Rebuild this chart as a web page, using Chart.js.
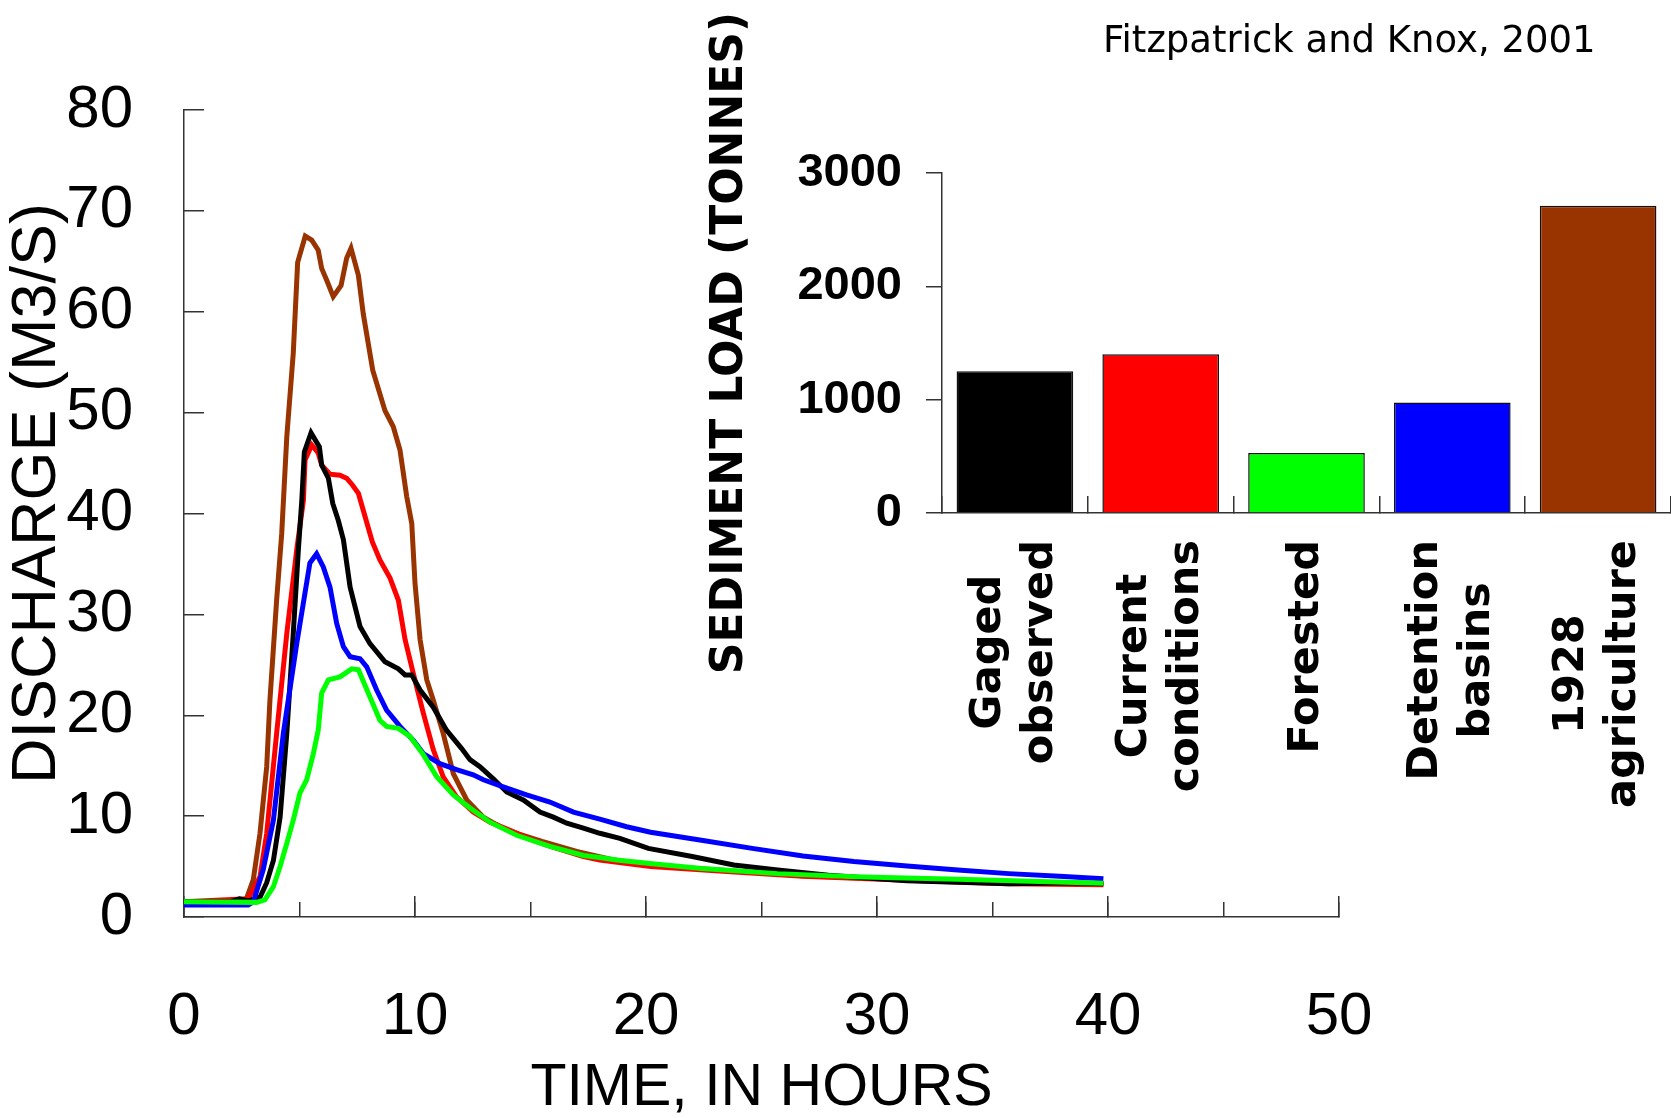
<!DOCTYPE html>
<html>
<head>
<meta charset="utf-8">
<title>Discharge and sediment load</title>
<script src="https://cdn.jsdelivr.net/npm/chart.js@4.4.1/dist/chart.umd.min.js"></script>
<style>
  html, body { margin: 0; padding: 0; background: #fff; overflow: hidden; }
  #wrap { position: relative; width: 1671px; height: 1118px; }
  #hydroChart { position: absolute; left: 0; top: 0; }
  #loadChart { position: absolute; left: 640px; top: 0; }
  #note { position: absolute; left: 1103px; top: 21px; font: 37px/1 "DejaVu Sans", sans-serif; color: #000; white-space: nowrap; }
</style>
</head>
<body>
<div id="wrap">
  <canvas id="hydroChart" width="1671" height="1118"></canvas>
  <canvas id="loadChart" width="1031" height="1118"></canvas>
  <div id="note">Fitzpatrick and Knox, 2001</div>
</div>
<script>
// hydrographs, hours vs m3/s
const gagedHours = [0, 2.0, 2.4, 2.8, 3.3, 3.58, 3.87, 4.16, 4.45, 4.73, 4.95, 5.1, 5.21, 5.5, 5.86, 5.96, 6.25, 6.44, 6.68, 6.9, 7.19, 7.62, 8.05, 8.7, 9.28, 9.57, 9.86, 10.22, 10.79, 11.37, 12.02, 12.38, 12.81, 13.39, 13.97, 14.69, 15.41, 15.99, 16.57, 17.29, 18.0, 18.87, 20.1, 22.0, 23.8, 25.7, 27.9, 31.3, 35.7, 38.3, 39.8];
const gagedQ = [1.5, 1.5, 1.8, 1.6, 2.0, 3.4, 5.6, 9.9, 18.2, 28.1, 36.4, 41.3, 46.1, 48.0, 46.6, 44.8, 43.5, 41.0, 39.3, 37.4, 32.7, 28.8, 27.1, 25.3, 24.6, 24.0, 24.0, 22.5, 20.8, 18.5, 16.7, 15.6, 14.9, 13.7, 12.4, 11.6, 10.4, 9.9, 9.3, 8.8, 8.3, 7.8, 6.8, 6.0, 5.15, 4.65, 4.15, 3.6, 3.3, 3.4, 3.3];

const currentHours = [0, 2.78, 3.29, 3.58, 4.01, 4.45, 4.88, 5.17, 5.24, 5.53, 5.81, 5.96, 6.32, 6.75, 7.04, 7.3, 7.55, 7.8, 8.15, 8.48, 8.92, 9.28, 9.57, 9.93, 10.36, 10.79, 11.22, 11.8, 12.52, 13.25, 14.11, 15.0, 16.0, 17.29, 18.0, 20.2, 23.5, 26.8, 31.3, 35.7, 39.8];
const currentQ = [1.5, 1.8, 4.0, 8.3, 18.2, 28.1, 36.4, 41.3, 45.3, 46.8, 46.0, 44.8, 43.9, 43.8, 43.5, 42.8, 42.0, 40.0, 37.2, 35.4, 33.6, 31.4, 27.5, 24.1, 20.2, 16.6, 13.9, 11.9, 10.4, 9.4, 8.6, 7.7, 6.9, 6.0, 5.65, 5.0, 4.5, 4.05, 3.65, 3.3, 3.2];

const forestHours = [0, 3.14, 3.5, 3.87, 4.16, 4.45, 4.73, 5.02, 5.31, 5.6, 5.81, 5.96, 6.25, 6.75, 7.26, 7.55, 8.05, 8.48, 8.77, 9.28, 9.78, 10.36, 10.94, 11.66, 12.38, 13.25, 14.4, 15.84, 17.29, 18.0, 18.73, 20.17, 22.4, 25.7, 29.0, 33.5, 39.8];
const forestQ = [1.5, 1.45, 1.7, 3.0, 5.0, 7.3, 9.6, 12.3, 13.6, 16.2, 18.5, 22.2, 23.5, 23.8, 24.6, 24.5, 21.8, 19.5, 18.9, 18.7, 17.9, 16.1, 13.9, 12.1, 10.8, 9.4, 8.1, 7.0, 6.1, 5.9, 5.65, 5.3, 4.8, 4.3, 4.0, 3.75, 3.35];

const basinHours = [0, 2.78, 3.0, 3.43, 3.87, 4.3, 4.88, 5.45, 5.74, 6.03, 6.32, 6.61, 6.9, 7.19, 7.62, 7.91, 8.34, 8.77, 9.35, 9.93, 10.36, 11.08, 11.8, 12.52, 12.96, 13.82, 14.83, 15.84, 16.86, 18.0, 19.16, 20.2, 22.4, 24.6, 26.8, 29.0, 31.3, 33.5, 35.7, 37.9, 39.8];
const basinQ = [1.2, 1.2, 1.5, 4.7, 9.6, 18.2, 27.1, 35.1, 36.0, 34.7, 32.7, 29.1, 26.8, 25.8, 25.6, 24.8, 22.5, 20.5, 18.9, 17.5, 16.2, 15.2, 14.6, 14.1, 13.6, 12.9, 12.1, 11.4, 10.4, 9.7, 8.95, 8.4, 7.6, 6.8, 6.05, 5.5, 5.05, 4.65, 4.3, 4.05, 3.8];

const agriHours = [0, 2.5, 2.71, 3.0, 3.29, 3.58, 3.72, 4.01, 4.23, 4.45, 4.73, 4.92, 5.25, 5.53, 5.81, 5.96, 6.2, 6.46, 6.8, 7.04, 7.23, 7.55, 7.76, 8.17, 8.7, 9.06, 9.35, 9.64, 9.86, 10.0, 10.22, 10.51, 10.79, 11.22, 11.66, 12.24, 12.96, 13.68, 14.4, 15.5, 17.0, 18.5, 20.2, 23.5, 26.8, 31.3, 35.7, 39.8];
const agriQ = [1.5, 1.5, 1.85, 3.7, 8.3, 14.9, 21.5, 31.4, 38.0, 47.6, 55.9, 64.9, 67.5, 67.1, 66.1, 64.3, 63.0, 61.5, 62.6, 65.3, 66.3, 63.6, 59.8, 54.2, 50.2, 48.6, 46.3, 41.7, 39.0, 33.1, 27.5, 23.5, 21.5, 18.2, 14.2, 11.6, 9.9, 8.95, 8.3, 7.5, 6.5, 5.7, 5.1, 4.6, 4.1, 3.7, 3.4, 3.3];

// sediment load bars
const scenarioLabels = [['Gaged', 'observed'], ['Current', 'conditions'], ['Forested'], ['Detention', 'basins'], ['1928', 'agriculture']];
const sedimentTonnes = [1250, 1400, 530, 975, 2710];
const scenarioColors = ['#000000', '#ff0000', '#00ff00', '#0000ff', '#993300'];

const yTitle = 'DISCHARGE (M3/S)';
const xTitle = 'TIME, IN HOURS';
const loadTitle = 'SEDIMENT LOAD (TONNES)';

const axisColor = '#333333';

function pts(hours, q) {
  return hours.map((h, i) => ({ x: h, y: q[i] }));
}

function series(label, hours, q, color, order) {
  return {
    label: label,
    data: pts(hours, q),
    borderColor: color,
    borderWidth: 5,
    pointRadius: 0,
    tension: 0,
    fill: false,
    order: order
  };
}

// y title overlaps the tick labels in the original, so draw it by hand
const dischargeTitle = {
  id: 'dischargeTitle',
  afterDraw(chart) {
    const ctx = chart.ctx;
    const area = chart.chartArea;
    ctx.save();
    ctx.font = '63px "Liberation Sans"';
    ctx.fillStyle = '#000';
    ctx.textAlign = 'center';
    ctx.textBaseline = 'middle';
    ctx.translate(38, (area.top + area.bottom) / 2 - 20);
    ctx.rotate(-Math.PI / 2);
    ctx.fillText(yTitle, 0, 0);
    ctx.restore();
  }
};

new Chart(document.getElementById('hydroChart'), {
  type: 'line',
  data: {
    datasets: [
      series('Forested', forestHours, forestQ, '#00ff00', 0),
      series('Detention basins', basinHours, basinQ, '#0000ff', 1),
      series('Gaged observed', gagedHours, gagedQ, '#000000', 2),
      series('Current conditions', currentHours, currentQ, '#ff0000', 3),
      series('1928 agriculture', agriHours, agriQ, '#993300', 4)
    ]
  },
  options: {
    responsive: false,
    animation: false,
    layout: { padding: { top: 110, right: 332, bottom: 0, left: 0 } },
    plugins: { legend: { display: false }, tooltip: { enabled: false } },
    scales: {
      x2: {
        type: 'linear',
        position: 'bottom',
        weight: -1,
        min: 0,
        max: 50,
        ticks: { stepSize: 5, display: false },
        grid: { drawOnChartArea: false, drawTicks: true, tickLength: -15, color: axisColor, lineWidth: 1.5 },
        border: { display: false },
        afterFit(s) { s.height = 0; }
      },
      x: {
        type: 'linear',
        position: 'bottom',
        min: 0,
        max: 50,
        ticks: {
          stepSize: 10,
          color: '#000',
          padding: 85,
          font: { family: 'Liberation Sans', size: 60 }
        },
        grid: { drawOnChartArea: false, drawTicks: true, tickLength: -21, color: axisColor, lineWidth: 1.5 },
        border: { display: true, color: axisColor, width: 1.5 },
        title: {
          display: true,
          text: xTitle,
          color: '#000',
          padding: 0,
          font: { family: 'Liberation Sans', size: 59, lineHeight: 1 }
        },
        afterFit(s) { s.height = 201; }
      },
      y: {
        min: 0,
        max: 80,
        ticks: {
          stepSize: 10,
          color: '#000',
          padding: 71,
          font: { family: 'Liberation Sans', size: 60 }
        },
        grid: { drawOnChartArea: false, drawTicks: true, tickLength: -20, color: axisColor, lineWidth: 1.5 },
        border: { display: true, color: axisColor, width: 1.5 },
        afterFit(s) { s.width = 184; }
      }
    }
  },
  plugins: [dischargeTitle]
});

// category names: rotated, each block's lines centred on each other
const scenarioNames = {
  id: 'scenarioNames',
  afterDraw(chart) {
    const ctx = chart.ctx;
    const xs = chart.scales.x;
    const lh = 52;
    ctx.save();
    ctx.font = 'bold 43px "DejaVu Sans"';
    ctx.fillStyle = '#000';
    ctx.textAlign = 'center';
    ctx.textBaseline = 'middle';
    scenarioLabels.forEach((lines, i) => {
      const cx = xs.getPixelForValue(i);
      const w = Math.max(...lines.map(l => ctx.measureText(l).width));
      ctx.save();
      ctx.translate(cx, xs.top + 27 + w / 2);
      ctx.rotate(-Math.PI / 2);
      lines.forEach((l, j) => {
        ctx.fillText(l, 0, (j - (lines.length - 1) / 2) * lh);
      });
      ctx.restore();
    });
    ctx.restore();
  }
};

new Chart(document.getElementById('loadChart'), {
  type: 'bar',
  data: {
    labels: scenarioLabels,
    datasets: [{
      label: 'Sediment load',
      data: sedimentTonnes,
      backgroundColor: scenarioColors,
      borderColor: '#111',
      borderWidth: 1.5,
      barPercentage: 0.8,
      categoryPercentage: 1.0
    }]
  },
  options: {
    responsive: false,
    animation: false,
    layout: { padding: { top: 173, right: 0, bottom: 0, left: 0 } },
    plugins: { legend: { display: false }, tooltip: { enabled: false } },
    scales: {
      x: {
        ticks: { display: false },
        grid: { offset: true, drawOnChartArea: false, drawTicks: true, tickLength: -17, color: axisColor, lineWidth: 1.5 },
        border: { display: true, color: axisColor, width: 1.5 },
        afterFit(s) { s.height = 605; }
      },
      y: {
        min: 0,
        max: 3000,
        ticks: {
          stepSize: 1000,
          color: '#000',
          padding: 24,
          font: { family: 'Liberation Sans', size: 47, weight: 'bold' },
          callback: v => String(v)
        },
        grid: { drawOnChartArea: false, drawTicks: true, tickLength: 16, color: axisColor, lineWidth: 1.5 },
        border: { display: true, color: axisColor, width: 1.5 },
        title: {
          display: true,
          text: loadTitle,
          color: '#000',
          padding: 64,
          font: { family: 'DejaVu Sans', size: 44, weight: 'bold' }
        },
        afterFit(s) { s.width = 302; }
      }
    }
  },
  plugins: [scenarioNames]
});
</script>
</body>
</html>
